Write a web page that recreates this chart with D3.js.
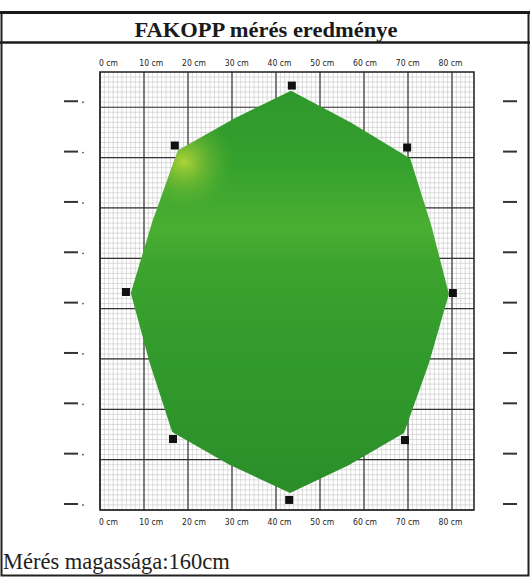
<!DOCTYPE html>
<html>
<head>
<meta charset="utf-8">
<script src="https://cdn.jsdelivr.net/npm/d3@7"></script>
<style>
  body { margin: 0; background: #fff; }
  svg { display: block; }
  .lbl { font-family: 'Liberation Sans Narrow', 'DejaVu Sans Condensed', sans-serif; font-size: 8.5px; fill: #222; }
</style>
</head>
<body>
<div id="chart"></div>
<script>
// tick values (cm)
const xTicks = [0, 10, 20, 30, 40, 50, 60, 70, 80]
const yTicks = [0, 10, 20, 30, 40, 50, 60, 70, 80]
// sensor positions (cm)
const sensorX = [43.6, 69.8, 80.2, 69.3, 43.0, 16.6, 5.9, 17.0]
const sensorY = [84.3, 72.0, 43.1, 13.9, 2.0, 14.1, 43.3, 72.4]
// outline of the measured cross section (cm)
const shapeX = [43.4, 56.9, 70.5, 75.3, 79.3, 74.7, 69.1, 56.5, 43.2, 29.4, 16.4, 11.3, 7.0, 11.9, 17.7, 30.4]
const shapeY = [83.3, 77.0, 69.8, 56.5, 42.9, 29.0, 15.3, 8.9, 3.4, 9.0, 15.5, 29.2, 43.1, 57.3, 71.4, 77.7]

const W = 530
const H = 577
const svg = d3.select('#chart').append('svg')
  .attr('width', W)
  .attr('height', H)

// scales: grid paper is 85 x 87 cm
const x = d3.scaleLinear().domain([0, 85]).range([100, 474])
const y = d3.scaleLinear().domain([0, 87]).range([510, 72])
// the printed labels sit on a slightly tighter spacing
const xl = d3.scaleLinear().domain([0, 80]).range([108, 450])

// outer frame + title
svg.append('rect')
  .attr('x', 1.5).attr('y', 12.5)
  .attr('width', W - 3).attr('height', H - 14)
  .attr('fill', 'none').attr('stroke', '#222').attr('stroke-width', 2)
svg.append('line')
  .attr('x1', 0).attr('x2', W).attr('y1', 12.5).attr('y2', 12.5)
  .attr('stroke', '#1a1a1a').attr('stroke-width', 3)
svg.append('line')
  .attr('x1', 0).attr('x2', W).attr('y1', 42.5).attr('y2', 42.5)
  .attr('stroke', '#1a1a1a').attr('stroke-width', 2.5)
svg.append('text')
  .attr('x', 266).attr('y', 37)
  .attr('text-anchor', 'middle')
  .attr('textLength', 263).attr('lengthAdjust', 'spacingAndGlyphs')
  .style('font-family', "'Liberation Serif', 'Times New Roman', serif")
  .style('font-weight', 'bold')
  .style('font-size', '22px')
  .style('fill', '#1a1a1a')
  .text('FAKOPP mérés eredménye')

// grid paper
const grid = svg.append('g')
const minorX = d3.range(0, 85.01, 1)
const minorY = d3.range(0, 87.01, 1)
grid.selectAll('.vmin').data(minorX).enter().append('line')
  .attr('x1', d => x(d)).attr('x2', d => x(d))
  .attr('y1', y(87)).attr('y2', y(0))
  .attr('stroke', '#c4c4c4').attr('stroke-width', 0.6)
grid.selectAll('.hmin').data(minorY).enter().append('line')
  .attr('y1', d => y(d)).attr('y2', d => y(d))
  .attr('x1', x(0)).attr('x2', x(85))
  .attr('stroke', '#c4c4c4').attr('stroke-width', 0.6)
grid.selectAll('.vmaj').data(xTicks).enter().append('line')
  .attr('x1', d => x(d)).attr('x2', d => x(d))
  .attr('y1', y(87)).attr('y2', y(0))
  .attr('stroke', '#333').attr('stroke-width', 1.2)
grid.selectAll('.hmaj').data(yTicks).enter().append('line')
  .attr('y1', d => y(d)).attr('y2', d => y(d))
  .attr('x1', x(0)).attr('x2', x(85))
  .attr('stroke', '#333').attr('stroke-width', 1.2)
grid.append('rect')
  .attr('x', x(0)).attr('y', y(87))
  .attr('width', x(85) - x(0)).attr('height', y(0) - y(87))
  .attr('fill', 'none').attr('stroke', '#222').attr('stroke-width', 1.5)

// x labels top and bottom
const topAxis = svg.append('g')
  .attr('transform', 'translate(0,66)')
  .call(d3.axisTop(xl).tickValues(xTicks).tickSize(0).tickFormat(d => d + ' cm'))
const botAxis = svg.append('g')
  .attr('transform', 'translate(0,518)')
  .call(d3.axisBottom(xl).tickValues(xTicks).tickSize(0).tickFormat(d => d + ' cm'))
;[topAxis, botAxis].forEach(a => {
  a.select('.domain').remove()
  a.selectAll('text').attr('class', 'lbl').attr('dy', null).attr('y', 0)
})
botAxis.selectAll('text').attr('y', 7)

// smudged side marks
const marks = svg.append('g')
marks.selectAll('.lm').data(yTicks).enter().append('line')
  .attr('x1', 64).attr('x2', 78)
  .attr('y1', d => y(d) - 6).attr('y2', d => y(d) - 6)
  .attr('stroke', '#333').attr('stroke-width', 2)
marks.selectAll('.ld').data(yTicks).enter().append('circle')
  .attr('cx', 83).attr('cy', d => y(d) - 5).attr('r', 0.9).attr('fill', '#555')
marks.selectAll('.rm').data(yTicks).enter().append('line')
  .attr('x1', 503).attr('x2', 517)
  .attr('y1', d => y(d) - 6).attr('y2', d => y(d) - 6)
  .attr('stroke', '#333').attr('stroke-width', 2)

// colours of the tomogram
const defs = svg.append('defs')
const lg = defs.append('linearGradient')
  .attr('id', 'band').attr('x1', 0).attr('x2', 0).attr('y1', 0).attr('y2', 1)
lg.selectAll('stop').data([
  [0, '#2f982c'], [0.18, '#34a02d'], [0.26, '#40a82f'], [0.34, '#4aae31'],
  [0.43, '#3da42e'], [0.6, '#339c2c'], [0.8, '#2f962b'], [1, '#2b8e29']
]).enter().append('stop')
  .attr('offset', d => d[0]).attr('stop-color', d => d[1])
const rg = defs.append('radialGradient')
  .attr('id', 'spot').attr('gradientUnits', 'userSpaceOnUse')
  .attr('cx', 184).attr('cy', 162).attr('r', 50)
rg.append('stop').attr('offset', 0).attr('stop-color', '#bcd93a').attr('stop-opacity', 0.9)
rg.append('stop').attr('offset', 0.5).attr('stop-color', '#8cc434').attr('stop-opacity', 0.45)
rg.append('stop').attr('offset', 1).attr('stop-color', '#5cb430').attr('stop-opacity', 0)

const shape = d3.zip(shapeX, shapeY)
const outline = d3.line()
  .x(d => x(d[0]))
  .y(d => y(d[1]))
  .curve(d3.curveLinearClosed)
svg.append('path')
  .attr('d', outline(shape))
  .attr('fill', 'url(#band)')
defs.append('clipPath').attr('id', 'clip')
  .append('path').attr('d', outline(shape))
svg.append('rect')
  .attr('clip-path', 'url(#clip)')
  .attr('x', 100).attr('y', 70).attr('width', 380).attr('height', 440)
  .attr('fill', 'url(#spot)')

// sensors
svg.selectAll('.sensor').data(d3.zip(sensorX, sensorY)).enter().append('rect')
  .attr('x', d => x(d[0]) - 4)
  .attr('y', d => y(d[1]) - 4)
  .attr('width', 8).attr('height', 8)
  .attr('fill', '#111')

// footer
svg.append('text')
  .attr('x', 3).attr('y', 569)
  .style('font-family', "'Liberation Serif', 'Times New Roman', serif")
  .style('font-size', '22.5px')
  .style('fill', '#222')
  .text('Mérés magassága:160cm')
</script>
</body>
</html>
